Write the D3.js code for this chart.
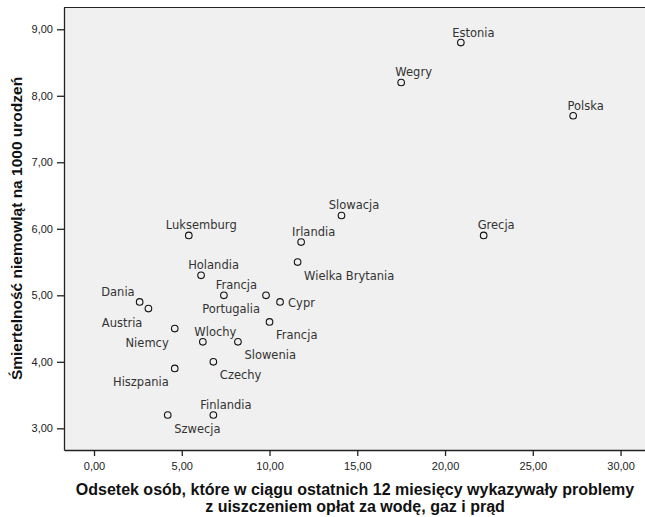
<!DOCTYPE html>
<meta charset="utf-8">
<script src="https://d3js.org/d3.v7.min.js"></script>
<style>
  body { margin: 0; background: #fff; }
  svg { display: block; }
</style>
<div id="chart"></div>
<script>

// data
var countries = ["Estonia", "Wegry", "Polska", "Slowacja", "Luksemburg", "Grecja", "Irlandia",
  "Wielka Brytania", "Holandia", "Francja", "Portugalia", "Cypr", "Dania", "Austria", "Francja",
  "Niemcy", "Wlochy", "Slowenia", "Czechy", "Hiszpania", "Szwecja", "Finlandia"];
var arrears = [20.9, 17.5, 27.3, 14.1, 5.4, 22.2, 11.8, 11.6, 6.1, 7.4, 9.8, 10.6, 2.6, 3.1, 10.0,
  4.6, 6.2, 8.2, 6.8, 4.6, 4.2, 6.8];
var mortality = [8.8, 8.2, 7.7, 6.2, 5.9, 5.9, 5.8, 5.5, 5.3, 5.0, 5.0, 4.9, 4.9, 4.8, 4.6,
  4.5, 4.3, 4.3, 4.0, 3.9, 3.2, 3.2];
// where the label sits round its point (n = above, se = below right, sw = below left, nw, e)
var labelPos = ["n", "n", "n", "n", "n", "n", "n", "se", "n", "n", "sw", "e", "nw", "sw", "se",
  "sw", "n", "se", "se", "sw", "se", "n"];

var xTicks = [0, 5, 10, 15, 20, 25, 30];
var yTicks = [3, 4, 5, 6, 7, 8, 9];

var data = countries.map(function(c, i) {
  return {name: c, x: arrears[i], y: mortality[i], pos: labelPos[i]};
});

var W = 645, H = 517;
var plotL = 64, plotT = 7, plotR = 646, plotB = 450;

var svg = d3.select("#chart").append("svg")
  .attr("width", W)
  .attr("height", H);

var x = d3.scaleLinear().domain([-1.71, 31.45]).range([plotL, plotR]);
var y = d3.scaleLinear().domain([2.674, 9.335]).range([plotB, plotT]);

// plot background + frame
svg.append("rect")
  .attr("x", plotL).attr("y", plotT)
  .attr("width", plotR - plotL).attr("height", plotB - plotT)
  .attr("fill", "#f0f0f0");
svg.append("line")
  .attr("x1", plotL).attr("x2", plotR).attr("y1", plotT + 0.5).attr("y2", plotT + 0.5)
  .attr("stroke", "#222").attr("stroke-width", 1);

var fmt = function(d) { return d3.format(".2f")(d).replace(".", ","); };

var xAxis = svg.append("g")
  .attr("transform", "translate(0," + plotB + ")")
  .call(d3.axisBottom(x).tickValues(xTicks).tickFormat(fmt).tickSize(6).tickSizeOuter(0).tickPadding(6));
var yAxis = svg.append("g")
  .attr("transform", "translate(" + plotL + ",0)")
  .call(d3.axisLeft(y).tickValues(yTicks).tickFormat(fmt).tickSize(7).tickSizeOuter(0).tickPadding(4));

[xAxis, yAxis].forEach(function(a) {
  a.select(".domain").attr("stroke", "#222").attr("stroke-width", 1.3);
  a.selectAll(".tick line").attr("stroke", "#222").attr("stroke-width", 1.3);
  a.selectAll(".tick text")
    .attr("font-family", "Liberation Sans, Arial, sans-serif")
    .attr("font-size", "11px")
    .attr("fill", "#222");
});

// points
svg.selectAll("circle.pt")
  .data(data)
  .enter().append("circle")
    .attr("class", "pt")
    .attr("cx", function(d) { return x(d.x); })
    .attr("cy", function(d) { return y(d.y); })
    .attr("r", 3.3)
    .attr("fill", "none")
    .attr("stroke", "#111")
    .attr("stroke-width", 1.1);

// labels
var off = {
  n:  {dx: 12.5, dy: -6, anchor: "middle"},
  se: {dx: 6.5, dy: 17.5, anchor: "start"},
  sw: {dx: -6, dy: 18, anchor: "end"},
  nw: {dx: -5, dy: -5.5, anchor: "end"},
  e:  {dx: 8, dy: 5, anchor: "start"}
};
svg.selectAll("text.lbl")
  .data(data)
  .enter().append("text")
    .attr("class", "lbl")
    .attr("x", function(d) { return x(d.x) + off[d.pos].dx; })
    .attr("y", function(d) { return y(d.y) + off[d.pos].dy; })
    .attr("text-anchor", function(d) { return off[d.pos].anchor; })
    .attr("font-family", "DejaVu Sans, sans-serif")
    .attr("font-size", "11.5px")
    .attr("fill", "#333")
    .text(function(d) { return d.name; });

// axis titles
var title = svg.append("text")
  .attr("text-anchor", "middle")
  .attr("font-family", "Liberation Sans, Arial, sans-serif")
  .attr("font-weight", "bold")
  .attr("font-size", "16px")
  .attr("fill", "#111");
title.append("tspan").attr("x", (plotL + plotR) / 2).attr("y", 495)
  .text("Odsetek osób, które w ciągu ostatnich 12 miesięcy wykazywały problemy");
title.append("tspan").attr("x", (plotL + plotR) / 2).attr("y", 512)
  .text("z uiszczeniem opłat za wodę, gaz i prąd");

svg.append("text")
  .attr("transform", "translate(22," + (plotT + plotB) / 2 + ") rotate(-90)")
  .attr("text-anchor", "middle")
  .attr("font-family", "Liberation Sans, Arial, sans-serif")
  .attr("font-weight", "bold")
  .attr("font-size", "15.5px")
  .attr("fill", "#111")
  .text("Śmiertelność niemowląt na 1000 urodzeń");

</script>
